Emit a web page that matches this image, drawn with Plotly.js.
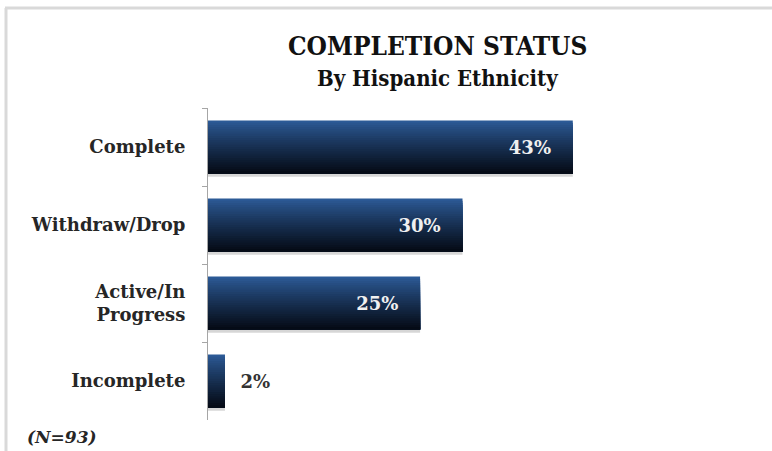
<!DOCTYPE html>
<html>
<head>
<meta charset="utf-8">
<script src="https://cdn.plot.ly/plotly-3.0.1.min.js"></script>
<style>html,body{margin:0;padding:0;background:#fff;}#chart{width:772px;height:451px;}</style>
</head>
<body>
<div id="chart"></div>
<script>
const categories = ["Complete", "Withdraw/Drop", "Active/In<br>Progress", "Incomplete"];
const values = [43, 30, 25, 2];
const labelPositions = ["inside", "inside", "inside", "outside"];
const titleText = "COMPLETION STATUS";
const subtitleText = "By Hispanic Ethnicity";
const noteText = "(N=93)";

const serif = "DejaVu Serif";
const barWidth = 0.68;
const strips = 24;
const topColor = [44, 90, 150];
const bottomColor = [5, 11, 22];

const traces = [];
// shadow
traces.push({
  type: "bar", orientation: "h", y: categories, x: values,
  width: barWidth, offset: -barWidth / 2 + 0.04,
  marker: {color: "rgba(0,0,0,0.16)"}, hoverinfo: "skip", showlegend: false
});
// gradient: each layer starts lower and runs to the bar bottom
for (let i = 0; i < strips; i++) {
  const t = i / (strips - 1);
  const c = topColor.map((v, k) => Math.round(v + (bottomColor[k] - v) * Math.pow(t, 0.9)));
  const start = i * barWidth / strips;
  traces.push({
    type: "bar", orientation: "h", y: categories, x: values,
    width: barWidth - start, offset: -barWidth / 2 + start,
    marker: {color: `rgb(${c[0]},${c[1]},${c[2]})`, line: {width: 0}},
    hoverinfo: "skip", showlegend: false
  });
}
// labels
traces.push({
  type: "bar", orientation: "h", y: categories, x: values,
  width: barWidth, offset: -barWidth / 2,
  marker: {color: "rgba(0,0,0,0)"},
  text: values.map((v, i) => labelPositions[i] === "inside" ? v + "%\u00a0\u00a0\u00a0" : "\u00a0\u00a0" + v + "%"),
  textposition: labelPositions,
  insidetextanchor: "end",
  insidetextfont: {family: serif, size: 18, color: "#f0f0f0", weight: "bold"},
  outsidetextfont: {family: serif, size: 18, color: "#333333", weight: "bold"},
  constraintext: "none",
  hoverinfo: "skip", showlegend: false
});

const layout = {
  width: 772, height: 451,
  margin: {l: 208, r: 55, t: 108, b: 31},
  paper_bgcolor: "#ffffff", plot_bgcolor: "#ffffff",
  barmode: "overlay",
  xaxis: {range: [0, 60], visible: false, fixedrange: true},
  yaxis: {
    autorange: "reversed", type: "category",
    showline: true, linecolor: "#a6a6a6", linewidth: 1,
    ticks: "outside", tickson: "boundaries", ticklen: 5, tickcolor: "#a6a6a6",
    showgrid: false, ticklabelstandoff: 18,
    tickfont: {family: serif, size: 18, color: "#262626", weight: "bold"}
  },
  annotations: [
    {
      text: titleText, xref: "paper", yref: "paper", x: (437 - 208) / 509, y: 1 + (108 - 46) / 312,
      xanchor: "center", yanchor: "middle", showarrow: false,
      font: {family: "DejaVu Serif Condensed", size: 26, color: "#111111", weight: "bold"}
    },
    {
      text: subtitleText, xref: "paper", yref: "paper", x: (437 - 208) / 509, y: 1 + (108 - 78) / 312,
      xanchor: "center", yanchor: "middle", showarrow: false,
      font: {family: "DejaVu Serif Condensed", size: 22, color: "#111111", weight: "bold"}
    },
    {
      text: noteText, xref: "paper", yref: "paper", x: (25 - 208) / 509, y: -17 / 312,
      xanchor: "left", yanchor: "middle", showarrow: false,
      font: {family: serif, size: 17, color: "#262626", weight: "bold", style: "italic"}
    }
  ],
  shapes: [
    {type: "line", xref: "paper", yref: "paper", x0: -203 / 509, x1: 1.2, y0: 1 + 100 / 312, y1: 1 + 100 / 312, line: {color: "#d9d9d9", width: 3}},
    {type: "line", xref: "paper", yref: "paper", x0: -202 / 509, x1: -202 / 509, y0: 1 + 100 / 312, y1: -0.2, line: {color: "#d9d9d9", width: 3}}
  ]
};
Plotly.newPlot("chart", traces, layout, {displayModeBar: false, staticPlot: true});
</script>
</body>
</html>
